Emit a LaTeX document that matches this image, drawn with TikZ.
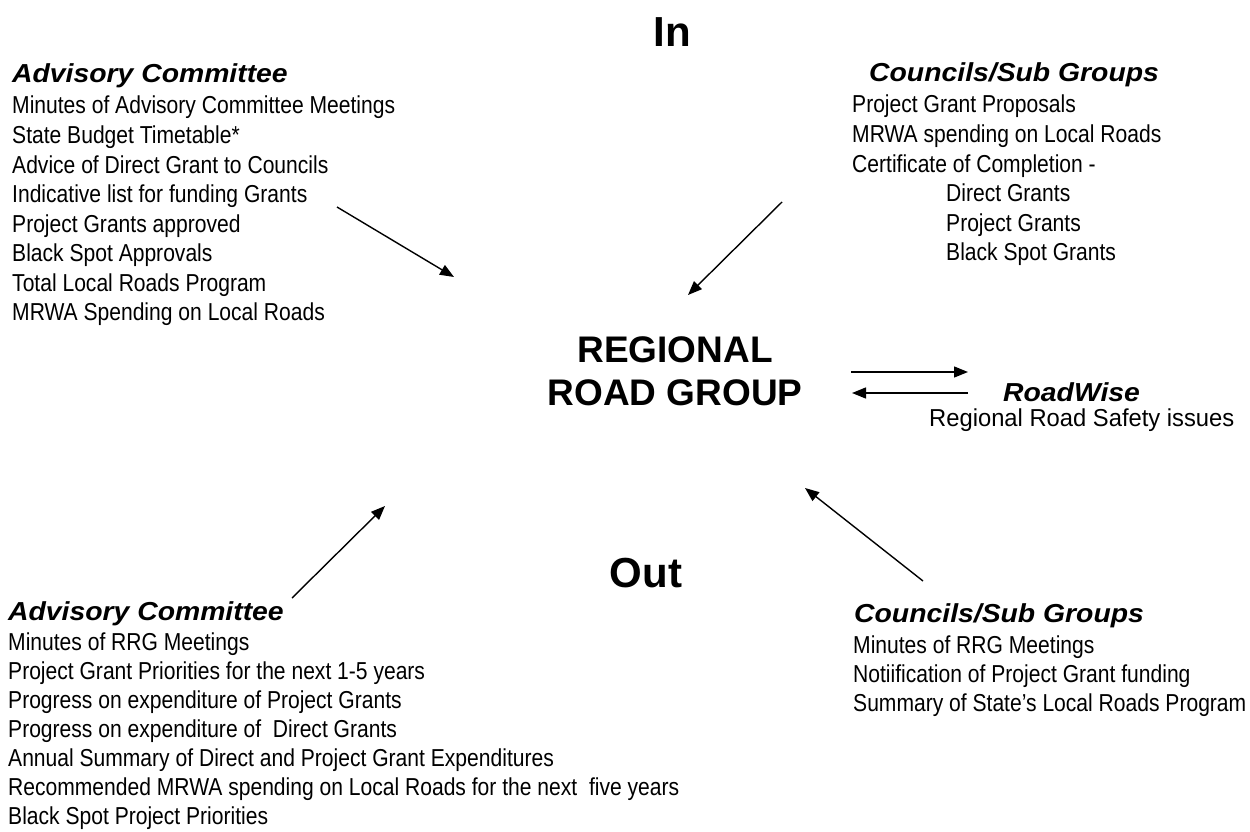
\documentclass[tikz,border=0pt]{standalone}
\usepackage{fontspec}
\setmainfont{Liberation Sans}
\newfontfamily\headfont[FakeStretch=1.09]{Liberation Sans}
\newfontfamily\bodyfont[FakeStretch=0.86]{Liberation Sans}
\newfontfamily\widebodyfont[FakeStretch=0.97]{Liberation Sans}
\usetikzlibrary{arrows.meta}
\tikzset{
  body/.style={anchor=base west, inner sep=0pt, font=\bodyfont\fontsize{24.5}{29}\selectfont},
  widebody/.style={anchor=base west, inner sep=0pt, font=\widebodyfont\fontsize{24.5}{29}\selectfont},
  head/.style={anchor=base west, inner sep=0pt, font=\headfont\fontsize{26}{30}\selectfont\bfseries\itshape},
  big/.style={anchor=base, inner sep=0pt, font=\fontsize{42}{50}\selectfont\bfseries},
  mid/.style={anchor=base, inner sep=0pt, font=\fontsize{37}{44}\selectfont\bfseries},
  arr/.style={line width=1.4pt, -{Triangle[length=14pt,width=11pt]}}
}
\begin{document}
\begin{tikzpicture}[x=1pt,y=-1pt]
\useasboundingbox[fill=white] (0,0) rectangle (1250,832);
% titles
\node[big] (in) at (672,47) {In};
\node[mid] (rg1) at (675,362) {REGIONAL};
\node[mid] (rg2) at (675,405) {ROAD GROUP};
\node[big] (out) at (646,587) {Out};
% top-left
\node[head] (tlh) at (12,83) {Advisory Committee};
\node[body] (tl1) at (12,114) {Minutes of Advisory Committee Meetings};
\node[body] (tl2) at (12,143.5) {State Budget Timetable*};
\node[body] (tl3) at (12,173) {Advice of Direct Grant to Councils};
\node[body] (tl4) at (12,202.5) {Indicative list for funding Grants};
\node[body] (tl5) at (12,232) {Project Grants approved};
\node[body] (tl6) at (12,261.5) {Black Spot Approvals};
\node[body] (tl7) at (12,291) {Total Local Roads Program};
\node[body] (tl8) at (12,320.5) {MRWA Spending on Local Roads};
% top-right
\node[head] (trh) at (869,82) {Councils/Sub Groups};
\node[body] (tr1) at (852,113) {Project Grant Proposals};
\node[body] (tr2) at (852,142.5) {MRWA spending on Local Roads};
\node[body] (tr3) at (852,172) {Certificate of Completion -};
\node[body] (tr4) at (946,201.5) {Direct Grants};
\node[body] (tr5) at (946,231) {Project Grants};
\node[body] (tr6) at (946,260.5) {Black Spot Grants};
% roadwise
\node[head] (rwh) at (1003,401) {RoadWise};
\node[widebody] (rw1) at (929,426) {Regional Road Safety issues};
% bottom-left
\node[head] (blh) at (8,620) {Advisory Committee};
\node[body] (bl1) at (8,650) {Minutes of RRG Meetings};
\node[body] (bl2) at (8,679) {Project Grant Priorities for the next 1-5 years};
\node[body] (bl3) at (8,708) {Progress on expenditure of Project Grants};
\node[body] (bl4) at (8,737) {Progress on expenditure of \ Direct Grants};
\node[body] (bl5) at (8,766) {Annual Summary of Direct and Project Grant Expenditures};
\node[body] (bl6) at (8,795) {Recommended MRWA spending on Local Roads for the next \ five years};
\node[body] (bl7) at (8,824) {Black Spot Project Priorities};
% bottom-right
\node[head] (brh) at (854,622) {Councils/Sub Groups};
\node[body] (br1) at (853,653) {Minutes of RRG Meetings};
\node[body] (br2) at (853,682) {Notiification of Project Grant funding};
\node[body] (br3) at (853,711) {Summary of State’s Local Roads Program};
% arrows
\coordinate (a1s) at (337,207); \coordinate (a1e) at (454,277);
\coordinate (a2s) at (782,202); \coordinate (a2e) at (688,295);
\coordinate (a3s) at (292,598); \coordinate (a3e) at (385,506);
\coordinate (a4s) at (923,581); \coordinate (a4e) at (805,488);
\coordinate (r1s) at (851,372); \coordinate (r1e) at (968,372);
\coordinate (r2s) at (968,393); \coordinate (r2e) at (852,393);
\draw[arr] (a1s) -- (a1e);
\draw[arr] (a2s) -- (a2e);
\draw[arr] (a3s) -- (a3e);
\draw[arr] (a4s) -- (a4e);
\draw[arr] (r1s) -- (r1e);
\draw[arr] (r2s) -- (r2e);
\end{tikzpicture}
\end{document}
